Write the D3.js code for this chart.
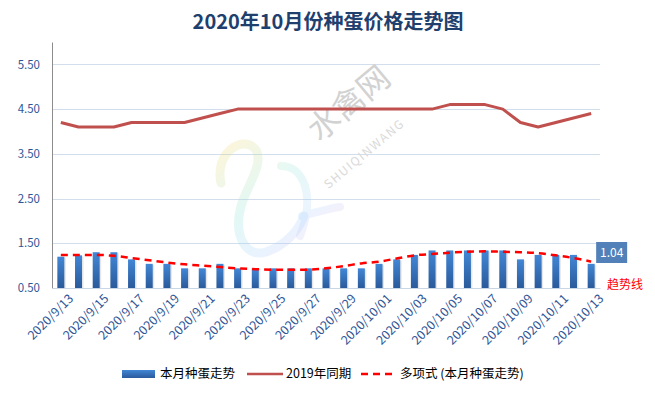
<!DOCTYPE html>
<html>
<head>
<meta charset="utf-8">
<script src="https://cdn.jsdelivr.net/npm/d3@7"></script>
<style>
  body { margin: 0; background: #fff; }
  text { font-family: "Noto Sans CJK SC", "Liberation Sans", sans-serif; }
</style>
</head>
<body>
<div id="chart"></div>
<script>
const W = 655, H = 396
const MARGIN = { TOP: 42, LEFT: 52, RIGHT: 55, BOTTOM: 108 }

const dates = [
  "2020/9/13", "2020/9/14", "2020/9/15", "2020/9/16", "2020/9/17", "2020/9/18", "2020/9/19",
  "2020/9/20", "2020/9/21", "2020/9/22", "2020/9/23", "2020/9/24", "2020/9/25", "2020/9/26",
  "2020/9/27", "2020/9/28", "2020/9/29", "2020/9/30", "2020/10/01", "2020/10/02", "2020/10/03",
  "2020/10/04", "2020/10/05", "2020/10/06", "2020/10/07", "2020/10/08", "2020/10/09", "2020/10/10",
  "2020/10/11", "2020/10/12", "2020/10/13"
]
// 本月种蛋走势
const thisMonth = [
  1.20, 1.23, 1.30, 1.30, 1.14, 1.04, 1.04, 0.94, 0.94, 1.04, 0.94, 0.94, 0.94, 0.94,
  0.94, 0.94, 0.94, 0.94, 1.04, 1.14, 1.24, 1.34, 1.34, 1.34, 1.34, 1.34, 1.14, 1.24,
  1.24, 1.24, 1.04
]
// 2019年同期
const lastYear = [
  4.2, 4.1, 4.1, 4.1, 4.2, 4.2, 4.2, 4.2, 4.3, 4.4, 4.5, 4.5, 4.5, 4.5,
  4.5, 4.5, 4.5, 4.5, 4.5, 4.5, 4.5, 4.5, 4.6, 4.6, 4.6, 4.5, 4.2, 4.1,
  4.2, 4.3, 4.4
]
// 多项式 (本月种蛋走势)
const trend = [
  1.24, 1.24, 1.24, 1.22, 1.17, 1.12, 1.07, 1.03, 1.00, 0.97, 0.94, 0.92, 0.91, 0.91,
  0.91, 0.94, 0.99, 1.05, 1.09, 1.16, 1.23, 1.26, 1.29, 1.31, 1.32, 1.31, 1.30, 1.28,
  1.23, 1.17, 1.09
]
const yTicks = [0.5, 1.5, 2.5, 3.5, 4.5, 5.5]

const svg = d3.select("#chart").append("svg")
  .attr("width", W).attr("height", H)

const defs = svg.append("defs")
const grad = defs.append("linearGradient").attr("id", "barGrad")
  .attr("x1", 0).attr("y1", 0).attr("x2", 0).attr("y2", 1)
grad.append("stop").attr("offset", "0%").attr("stop-color", "#4287d6")
grad.append("stop").attr("offset", "100%").attr("stop-color", "#2a5a9b")

const logoGrad = defs.append("linearGradient").attr("id", "logoGrad")
  .attr("gradientUnits", "userSpaceOnUse")
  .attr("x1", 220).attr("y1", 140).attr("x2", 320).attr("y2", 255)
logoGrad.append("stop").attr("offset", "0%").attr("stop-color", "#ffd34d")
logoGrad.append("stop").attr("offset", "45%").attr("stop-color", "#7fe0d0")
logoGrad.append("stop").attr("offset", "75%").attr("stop-color", "#9ec8ff")
logoGrad.append("stop").attr("offset", "100%").attr("stop-color", "#f3a0d0")

const x = d3.scaleBand().domain(dates).range([MARGIN.LEFT, W - MARGIN.RIGHT])
const y = d3.scaleLinear().domain([0.5, 6.0]).range([H - MARGIN.BOTTOM, MARGIN.TOP])
const cx = d => x(d) + x.bandwidth() / 2

// title
svg.append("text")
  .attr("x", 328).attr("y", 29)
  .attr("text-anchor", "middle")
  .attr("font-size", 20).attr("font-weight", "bold")
  .attr("fill", "#1f3f6e")
  .text("2020年10月份种蛋价格走势图")

// gridlines
svg.append("g")
  .selectAll("line").data(yTicks.slice(1)).join("line")
  .attr("x1", MARGIN.LEFT).attr("x2", W - MARGIN.RIGHT)
  .attr("y1", d => Math.round(y(d)) + 0.5).attr("y2", d => Math.round(y(d)) + 0.5)
  .attr("stroke", "#d3deec").attr("stroke-width", 1)

// watermark: faint swan logo + site name
const wm = svg.append("g")
wm.append("path")
  .attr("d", "M221,183 C214,152 244,134 256,150 C264,164 247,186 241,206 C233,236 246,258 266,252 C284,246 298,232 304,216")
  .attr("fill", "none").attr("stroke", "url(#logoGrad)").attr("stroke-width", 9)
  .attr("stroke-linecap", "round").attr("opacity", 0.22)
wm.append("path")
  .attr("d", "M281,166 C303,166 316,194 300,236 M302,216 C318,212 330,208 340,207")
  .attr("fill", "none").attr("stroke", "url(#logoGrad)").attr("stroke-width", 8)
  .attr("stroke-linecap", "round").attr("opacity", 0.2)
wm.append("text")
  .attr("transform", "translate(356,112) rotate(-40)")
  .attr("text-anchor", "middle")
  .attr("font-size", 32).attr("fill", "#d2d2d2")
  .text("水禽网")
wm.append("text")
  .attr("transform", "translate(367,157) rotate(-40)")
  .attr("text-anchor", "middle")
  .attr("font-size", 12).attr("letter-spacing", 1.5).attr("fill", "#dadada")
  .attr("font-family", "Liberation Sans")
  .text("SHUIQINWANG")

// y axis
const yAxis = d3.axisLeft(y).tickValues(yTicks).tickFormat(d3.format(".2f")).tickSize(0).tickPadding(12)
const yg = svg.append("g").attr("transform", `translate(${MARGIN.LEFT},0)`).call(yAxis)
yg.select(".domain").attr("stroke", "#8c8c8c")
yg.selectAll("text").attr("font-size", 11.5).attr("fill", "#2f5597")
  .attr("font-family", "Liberation Sans")

// bars
svg.append("g")
  .selectAll("rect").data(thisMonth).join("rect")
  .attr("x", (d, i) => cx(dates[i]) - 3.5 + 1.5)
  .attr("y", d => y(d) + 1)
  .attr("width", 7).attr("height", d => y(0.5) - y(d) - 1)
  .attr("fill", "#e6e6e6")
svg.append("g")
  .selectAll("rect").data(thisMonth).join("rect")
  .attr("x", (d, i) => cx(dates[i]) - 3.5)
  .attr("y", d => y(d))
  .attr("width", 7).attr("height", d => y(0.5) - y(d))
  .attr("fill", "url(#barGrad)")

// x axis
const xAxis = d3.axisBottom(x).tickValues(dates.filter((d, i) => i % 2 === 0)).tickSize(0).tickPadding(6)
const xg = svg.append("g").attr("transform", `translate(0,${y(0.5)})`).call(xAxis)
xg.select(".domain").attr("stroke", "#c9d6e6")
xg.selectAll("text")
  .attr("font-size", 12.5).attr("fill", "#2f5597")
  .attr("font-family", "Liberation Sans")
  .attr("text-anchor", "end")
  .attr("dy", "0.35em")
  .attr("transform", "translate(6,4) rotate(-45)")

// 2019 line
svg.append("path").datum(lastYear)
  .attr("fill", "none").attr("stroke", "#c0504d").attr("stroke-width", 3)
  .attr("stroke-linejoin", "round")
  .attr("d", d3.line().x((d, i) => cx(dates[i])).y(d => y(d)))

// trend line
svg.append("path").datum(trend)
  .attr("fill", "none").attr("stroke", "#ff0000").attr("stroke-width", 2.5)
  .attr("stroke-dasharray", "7,5")
  .attr("d", d3.line().curve(d3.curveMonotoneX).x((d, i) => cx(dates[i])).y(d => y(d)))

// last value label
const lastI = thisMonth.length - 1
const lx = cx(dates[lastI]) + 5
svg.append("rect")
  .attr("x", lx).attr("y", 242).attr("width", 31).attr("height", 21)
  .attr("fill", "#5181b8")
svg.append("text")
  .attr("x", lx + 15.5).attr("y", 257)
  .attr("text-anchor", "middle")
  .attr("font-size", 12).attr("fill", "#fff")
  .attr("font-family", "Liberation Sans")
  .text(d3.format(".2f")(thisMonth[lastI]))
svg.append("text")
  .attr("x", 607).attr("y", 289)
  .attr("font-size", 12).attr("fill", "#ff0000")
  .text("趋势线")

// legend
const leg = svg.append("g").attr("transform", "translate(0,374)")
leg.append("rect").attr("x", 122).attr("y", -4).attr("width", 33).attr("height", 8).attr("fill", "url(#barGrad)")
leg.append("text").attr("x", 160).attr("y", 0).attr("dy", "0.35em").attr("font-size", 12.5).attr("fill", "#000").text("本月种蛋走势")
leg.append("line").attr("x1", 247).attr("x2", 283).attr("y1", 0).attr("y2", 0).attr("stroke", "#c0504d").attr("stroke-width", 2.5)
leg.append("text").attr("x", 286).attr("y", 0).attr("dy", "0.35em").attr("font-size", 12.5).attr("fill", "#000").text("2019年同期")
leg.append("line").attr("x1", 361).attr("x2", 396).attr("y1", 0).attr("y2", 0).attr("stroke", "#ff0000").attr("stroke-width", 2.5).attr("stroke-dasharray", "7,5")
leg.append("text").attr("x", 400).attr("y", 0).attr("dy", "0.35em").attr("font-size", 12.5).attr("fill", "#000").text("多项式 (本月种蛋走势)")
</script>
</body>
</html>
